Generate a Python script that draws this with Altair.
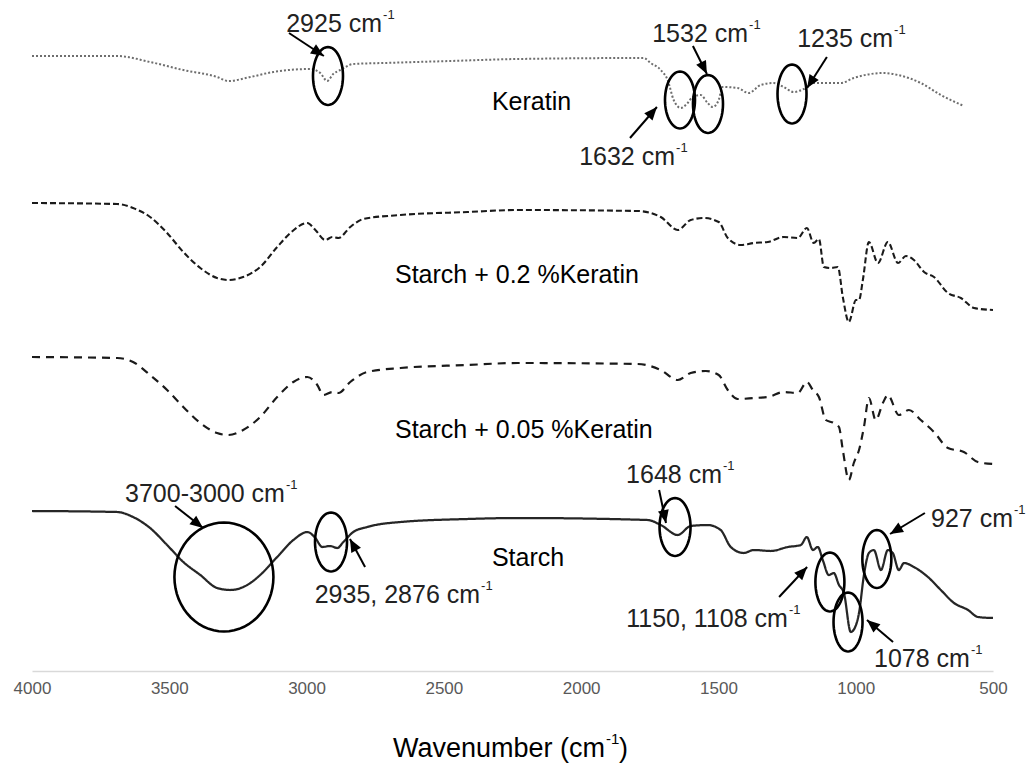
import math
import altair as alt
import pandas as pd

FONT = "Liberation Sans"

# ---------------- spectra (wavenumber, offset transmittance a.u.) ----------------
ker_wn = [4000, 3690, 3570, 3449, 3326, 3285, 3205, 3121, 2986, 2950, 2925, 2903, 2877, 2830, 2720,
          2476, 2232, 1772, 1747, 1710, 1685, 1663, 1637, 1612, 1594, 1565, 1539, 1521, 1499, 1485,
          1430, 1390, 1346, 1298, 1262, 1226, 1189, 1153, 1054, 1007, 897, 846, 763, 690, 606]
ker_t = [615, 615, 609, 601, 594, 590, 594, 599, 602, 598, 590, 597, 601, 607, 608,
         610, 612, 613, 608, 601, 591, 571, 563, 568, 574, 576, 568, 564, 571, 584,
         583, 578, 586, 588, 584, 579, 582, 588, 588, 593, 598, 596, 588, 576, 565]

s02_wn = [4000, 3690, 3632, 3570, 3508, 3449, 3387, 3326, 3285, 3231, 3169, 3107, 3059, 2997, 2968,
          2932, 2906, 2884, 2841, 2793, 2658, 2414, 2232, 1794, 1710, 1648, 1601, 1554, 1499, 1466,
          1419, 1371, 1320, 1262, 1211, 1178, 1153, 1134, 1116, 1091, 1065, 1047, 1025, 999, 988,
          974, 952, 919, 883, 846, 817, 788, 751, 715, 664, 617, 569, 500]
s02_t = [468, 467, 463, 454, 438, 419, 403, 393, 391, 394, 404, 424, 438, 448, 441,
         431, 434, 433, 444, 452, 456, 459, 461, 460, 454, 441, 451, 453, 449, 433,
         426, 428, 429, 434, 433, 443, 428, 432, 404, 403, 404, 374, 349, 371, 371,
         391, 429, 408, 429, 408, 415, 411, 399, 394, 378, 373, 363, 361]

s005_wn = [4000, 3690, 3632, 3570, 3508, 3449, 3387, 3326, 3285, 3231, 3169, 3107, 3048, 2997, 2961,
           2939, 2906, 2884, 2841, 2779, 2658, 2414, 2232, 1794, 1710, 1648, 1601, 1546, 1499, 1466,
           1430, 1371, 1320, 1262, 1211, 1178, 1156, 1134, 1109, 1080, 1061, 1047, 1025, 1007, 988,
           970, 952, 927, 901, 883, 843, 806, 763, 715, 664, 606, 555, 500]
s005_t = [314, 313, 309, 296, 281, 264, 248, 238, 236, 241, 254, 274, 289, 294, 286,
          276, 279, 278, 289, 299, 303, 306, 308, 307, 301, 291, 298, 300, 296, 281,
          272, 273, 274, 279, 278, 289, 281, 274, 251, 248, 244, 221, 191, 208, 221,
          244, 273, 251, 268, 276, 256, 261, 251, 239, 223, 219, 209, 207]

st_wn = [4000, 3690, 3632, 3570, 3508, 3449, 3387, 3326, 3278, 3216, 3169, 3107, 3048, 2997, 2968,
         2943, 2914, 2888, 2866, 2830, 2779, 2658, 2414, 2232, 1758, 1710, 1648, 1601, 1539, 1492,
         1455, 1408, 1371, 1309, 1247, 1200, 1178, 1156, 1138, 1120, 1098, 1080, 1061, 1043, 1018,
         999, 988, 970, 952, 934, 908, 883, 865, 843, 824, 788, 737, 690, 642, 591, 555, 500]
st_t = [160, 159, 154, 143, 126, 109, 96, 83, 81, 86, 96, 114, 131, 139, 133,
        124, 125, 123, 129, 139, 144, 149, 152, 153, 151, 146, 136, 145, 146, 141,
        124, 118, 121, 120, 124, 126, 134, 121, 124, 111, 96, 98, 86, 78, 39,
        46, 58, 96, 118, 121, 101, 121, 118, 101, 108, 104, 94, 81, 68, 61, 54, 53]

series_names = ["Keratin", "Starch + 0.2 %Keratin", "Starch + 0.05 %Keratin", "Starch"]
series_data = [(ker_wn, ker_t), (s02_wn, s02_t), (s005_wn, s005_t), (st_wn, st_t)]

# curve labels (left edge, baseline)
lab_wn = [2325, 2678, 2678, 2325]
lab_t = [561, 388, 233, 105]

# ---------------- annotations ----------------
ann_text = ["2925 cm", "1532 cm", "1235 cm", "1632 cm", "3700-3000 cm", "2935, 2876 cm",
            "1648 cm", "927 cm", "1150, 1108 cm", "1078 cm"]
ann_wn = [2725, 1392, 864, 1658, 3079, 2368, 1487, 427, 1247, 584]
ann_t = [639, 629, 624, 506, 169, 68, 188, 144, 44, 4]

ell_wn = [2922, 1640, 1538, 1232, 3301, 2911, 1658, 1094, 1028, 923]
ell_t = [595, 571, 567, 577, 94, 129, 144, 89, 49, 112]

arr_tail_wn = [3064, 1593, 1105, 1822, 3479, 2787, 1716, 748, 1279, 864]
arr_tail_t = [638, 625, 614, 533, 165, 104, 181, 158, 74, 29]
arr_head_wn = [2937, 1542, 1177, 1724, 3377, 2842, 1691, 875, 1177, 959]
arr_head_t = [615, 597, 583, 564, 143, 132, 148, 137, 104, 51]

tick_values = [4000, 3500, 3000, 2500, 2000, 1500, 1000, 500]

# ---------------- styles ----------------
W, H = 961, 661
XMIN, XMAX = 500, 4000
YMAX = 661
TXT = 25
ell_w_px = [30, 30, 30, 29, 99, 32, 31, 29, 29, 29]
ell_h_px = [58, 57, 58, 59, 109, 59, 58, 59, 59, 58]
line_colors = ["#6e6e6e", "#1a1a1a", "#1a1a1a", "#262626"]
line_dashes = [[2, 2], [6, 3], [8, 6], [1, 0]]
line_widths = [2, 2.25, 2.25, 2.25]

rows = []
for name, (wns, ts) in zip(series_names, series_data):
    for w_, t_ in zip(wns, ts):
        rows.append({"series": name, "wn": w_, "t": t_})
df_lines = pd.DataFrame(rows)

df_labels = pd.DataFrame({"text": series_names, "wn": lab_wn, "t": lab_t})
df_ann = pd.DataFrame({"text": ann_text, "sup": ["-1"] * len(ann_text), "wn": ann_wn, "t": ann_t})


def ellipse_path(w, h, n=60):
    m = max(w, h)
    a, b = w / m, h / m
    pts = [(a * math.cos(2 * math.pi * i / n), b * math.sin(2 * math.pi * i / n)) for i in range(n)]
    return "M" + " L".join(f"{x:.4f},{y:.4f}" for x, y in pts) + " Z"


df_ell = pd.DataFrame({
    "wn": ell_wn, "t": ell_t,
    "shape": [ellipse_path(w, h) for w, h in zip(ell_w_px, ell_h_px)],
    "size": [max(w, h) ** 2 for w, h in zip(ell_w_px, ell_h_px)],
})

px_per_wn = W / (XMAX - XMIN)
px_per_t = H / YMAX
angles = []
for tw, tt, hw, ht in zip(arr_tail_wn, arr_tail_t, arr_head_wn, arr_head_t):
    dx = -(hw - tw) * px_per_wn
    dy = -(ht - tt) * px_per_t
    angles.append(math.degrees(math.atan2(dx, -dy)) % 360)
df_arr = pd.DataFrame({"wn": arr_tail_wn, "t": arr_tail_t, "wn2": arr_head_wn, "t2": arr_head_t})
df_head = pd.DataFrame({"wn": arr_head_wn, "t": arr_head_t, "angle": angles})

xs = alt.Scale(domain=[XMIN, XMAX], reverse=True, nice=False, zero=False)
ys = alt.Scale(domain=[0, YMAX], nice=False, zero=False)
xax = alt.Axis(values=tick_values, title=None, grid=False, ticks=False, tickSize=0,
               domainColor="#d9d9d9", domainWidth=1.3, labelFontSize=17, labelColor="#595959",
               labelFont=FONT, labelPadding=9, labelFlush=False, format="d")

X = lambda f="wn": alt.X(f"{f}:Q", scale=xs, axis=xax)
Y = lambda f="t": alt.Y(f"{f}:Q", scale=ys, axis=None)

lines = alt.Chart(df_lines).mark_line(strokeCap="butt", strokeJoin="round", interpolate="monotone").encode(
    x=X(), y=Y(),
    color=alt.Color("series:N", scale=alt.Scale(domain=series_names, range=line_colors), legend=None),
    strokeDash=alt.StrokeDash("series:N", scale=alt.Scale(domain=series_names, range=line_dashes), legend=None),
    strokeWidth=alt.StrokeWidth("series:N", scale=alt.Scale(domain=series_names, range=line_widths), legend=None),
    detail="series:N",
)

labels = alt.Chart(df_labels).mark_text(align="left", baseline="alphabetic", fontSize=TXT,
                                         font=FONT, color="#000000").encode(x=X(), y=Y(), text="text:N")

ellipses = alt.Chart(df_ell).mark_point(filled=False, stroke="#000000", strokeWidth=2.6, opacity=1).encode(
    x=X(), y=Y(),
    shape=alt.Shape("shape:N", scale=None),
    size=alt.Size("size:Q", scale=None),
)

arrows = alt.Chart(df_arr).mark_rule(color="#000000", strokeWidth=2).encode(
    x=X(), y=Y(), x2="wn2:Q", y2="t2:Q")

heads = alt.Chart(df_head).mark_point(shape="M0,0 L0.42,1 L-0.42,1 Z", filled=True, size=676,
                                      color="#000000", opacity=1).encode(
    x=X(), y=Y(), angle=alt.Angle("angle:Q", scale=None))

ann_main = alt.Chart(df_ann).mark_text(align="right", baseline="alphabetic", fontSize=TXT,
                                       font=FONT, color="#222222").encode(x=X(), y=Y(), text="text:N")
ann_sup = alt.Chart(df_ann).mark_text(align="left", baseline="alphabetic", fontSize=13, dx=1, dy=-13,
                                      font=FONT, color="#222222").encode(x=X(), y=Y(), text="sup:N")

df_title = pd.DataFrame({"wn": [1913], "t": [-86], "main": ["Wavenumber (cm"], "sup": ["-1"], "close": [")"]})
t_main = alt.Chart(df_title).mark_text(align="right", baseline="alphabetic", fontSize=27, font=FONT,
                                       color="#000000").encode(x=X(), y=Y(), text="main:N")
t_sup = alt.Chart(df_title).mark_text(align="left", baseline="alphabetic", fontSize=15, dx=1, dy=-13,
                                      font=FONT, color="#000000").encode(x=X(), y=Y(), text="sup:N")
t_close = alt.Chart(df_title).mark_text(align="left", baseline="alphabetic", fontSize=27, dx=14,
                                        font=FONT, color="#000000").encode(x=X(), y=Y(), text="close:N")

chart = alt.layer(lines, labels, ellipses, arrows, heads, ann_main, ann_sup, t_main, t_sup, t_close).properties(
    width=W, height=H,
    autosize=alt.AutoSizeParams(type="none"),
    padding={"left": 32, "top": 10, "right": 37, "bottom": 100},
    background="#ffffff",
).configure_view(stroke=None)

chart.save("out.html", embed_options={"renderer": "svg", "actions": False})
